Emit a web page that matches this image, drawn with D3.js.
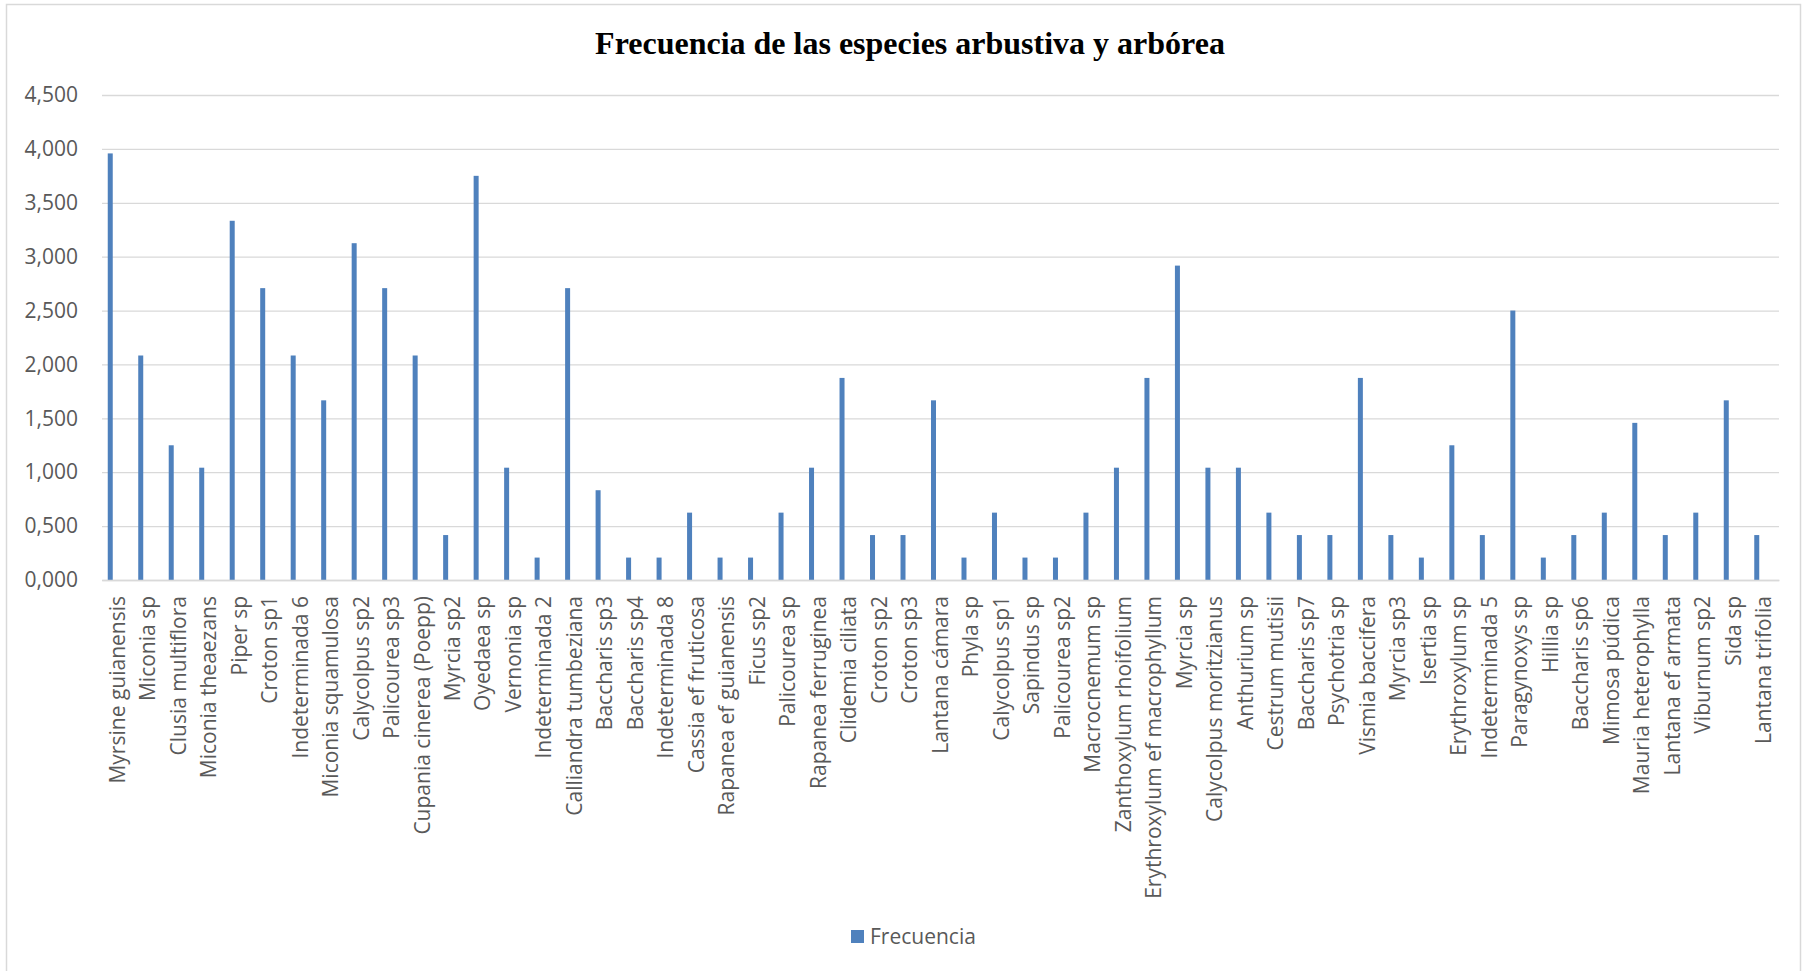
<!DOCTYPE html>
<html>
<head>
<meta charset="utf-8">
<script src="https://cdnjs.cloudflare.com/ajax/libs/d3/7.8.5/d3.min.js"></script>
<style>
  body { margin: 0; background: #fff; }
  svg { display: block; }
</style>
</head>
<body>
<div id="chart"></div>
<script>
"use strict";

// species names, in the order shown on the x axis
var species = [
	"Myrsine guianensis", "Miconia sp", "Clusia multiflora", "Miconia theaezans", "Piper sp",
	"Croton sp1", "Indeterminada 6", "Miconia squamulosa", "Calycolpus sp2", "Palicourea sp3",
	"Cupania cinerea (Poepp)", "Myrcia sp2", "Oyedaea sp", "Vernonia sp", "Indeterminada 2",
	"Calliandra tumbeziana", "Baccharis sp3", "Baccharis sp4", "Indeterminada 8", "Cassia ef fruticosa",
	"Rapanea ef guianensis", "Ficus sp2", "Palicourea sp", "Rapanea ferruginea", "Clidemia ciliata",
	"Croton sp2", "Croton sp3", "Lantana cámara", "Phyla sp", "Calycolpus sp1",
	"Sapindus sp", "Palicourea sp2", "Macrocnemum sp", "Zanthoxylum rhoifolium", "Erythroxylum ef macrophyllum",
	"Myrcia sp", "Calycolpus moritzianus", "Anthurium sp", "Cestrum mutisii", "Baccharis sp7",
	"Psychotria sp", "Vismia baccifera", "Myrcia sp3", "Isertia sp", "Erythroxylum sp",
	"Indeterminada 5", "Paragynoxys sp", "Hillia sp", "Baccharis sp6", "Mimosa  púdica",
	"Mauria heterophylla", "Lantana ef armata", "Viburnum sp2", "Sida sp", "Lantana trifolia"
];

// Frecuencia
var frecuencia = [
	3.958, 2.083, 1.250, 1.042, 3.333,
	2.708, 2.083, 1.667, 3.125, 2.708,
	2.083, 0.417, 3.750, 1.042, 0.208,
	2.708, 0.833, 0.208, 0.208, 0.625,
	0.208, 0.208, 0.625, 1.042, 1.875,
	0.417, 0.417, 1.667, 0.208, 0.625,
	0.208, 0.208, 0.625, 1.042, 1.875,
	2.917, 1.042, 1.042, 0.625, 0.417,
	0.417, 1.875, 0.417, 0.208, 1.250,
	0.417, 2.500, 0.208, 0.417, 0.625,
	1.458, 0.417, 0.625, 1.667, 0.417
];

var yTicks = [0, 0.5, 1, 1.5, 2, 2.5, 3, 3.5, 4, 4.5];

var title = "Frecuencia de las especies arbustiva y arbórea";
var seriesName = "Frecuencia";

var W = 1811, H = 971;
var plot = { left: 102, right: 1779, top: 95, bottom: 580 };
var barColor = "#4f81bd";
var labelFont = "'Open Sans', sans-serif";

var data = species.map(function (s, i) { return { name: s, value: frecuencia[i] }; });

var svg = d3.select("#chart").append("svg")
	.attr("width", W)
	.attr("height", H);

svg.append("rect")
	.attr("width", W).attr("height", H)
	.attr("fill", "#fff");

// chart frame
svg.append("rect")
	.attr("x", 6.5).attr("y", 4.5)
	.attr("width", 1794).attr("height", 990)
	.attr("fill", "none")
	.attr("stroke", "#d9d9d9")
	.attr("stroke-width", 1.5);

var x = d3.scaleBand()
	.domain(species)
	.range([plot.left, plot.right]);

var y = d3.scaleLinear()
	.domain([0, 4.5])
	.range([plot.bottom, plot.top]);

// numbers use comma as decimal mark: 4,500
var fmt = d3.formatLocale({ decimal: ",", thousands: ".", grouping: [3], currency: ["", ""] }).format(".3f");

// gridlines + y labels
var yAxis = d3.axisLeft(y)
	.tickValues(yTicks)
	.tickFormat(fmt)
	.tickSize(-(plot.right - plot.left))
	.tickPadding(24);

var gy = svg.append("g")
	.attr("transform", "translate(" + plot.left + ",0)")
	.call(yAxis);
gy.select(".domain").remove();
gy.selectAll(".tick line")
	.attr("stroke", "#d9d9d9")
	.attr("stroke-width", 1.3);
gy.selectAll(".tick text")
	.attr("fill", "#595959")
	.style("font-family", labelFont)
	.style("font-size", "21px");

// bars (sit a little left of the band centre, like the original)
svg.append("g").selectAll("rect")
	.data(data)
	.enter().append("rect")
	.attr("x", function (d) { return x(d.name) + x.bandwidth() / 2 - 9.5; })
	.attr("width", 5)
	.attr("y", function (d) { return y(d.value); })
	.attr("height", function (d) { return y(0) - y(d.value); })
	.attr("fill", barColor);

// x axis
var xAxis = d3.axisBottom(x).tickSize(0).tickPadding(0);
var gx = svg.append("g")
	.attr("transform", "translate(0," + plot.bottom + ")")
	.call(xAxis);
gx.select(".domain")
	.attr("stroke", "#d9d9d9")
	.attr("stroke-width", 1.5);
gx.selectAll(".tick text")
	.attr("fill", "#595959")
	.style("font-family", labelFont)
	.style("font-size", "21px")
	.attr("text-anchor", "end")
	.attr("transform", "translate(0,16) rotate(-90)")
	.attr("x", 0)
	.attr("y", 0)
	.attr("dy", "0.35em");

// title
svg.append("text")
	.attr("x", 910)
	.attr("y", 54)
	.attr("text-anchor", "middle")
	.style("font-family", "'Liberation Serif', 'Times New Roman', serif")
	.style("font-weight", "bold")
	.style("font-size", "32px")
	.attr("fill", "#000")
	.text(title);

// legend
var lg = svg.append("g").attr("transform", "translate(851,930)");
lg.append("rect")
	.attr("width", 13).attr("height", 13)
	.attr("fill", barColor);
lg.append("text")
	.attr("x", 19).attr("y", 14)
	.attr("fill", "#595959")
	.style("font-family", labelFont)
	.style("font-size", "21px")
	.text(seriesName);
</script>
</body>
</html>
